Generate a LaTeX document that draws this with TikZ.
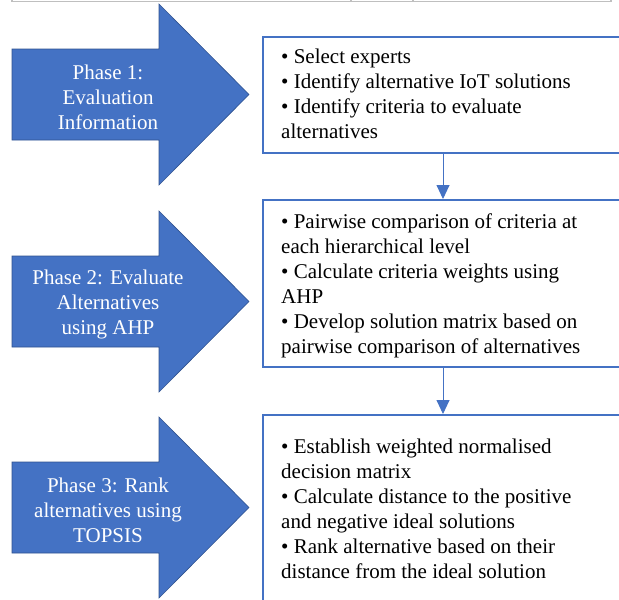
\documentclass[tikz,border=0pt]{standalone}
\usepackage{fontspec}
\setmainfont{Liberation Serif}
\usetikzlibrary{arrows.meta,positioning}
\definecolor{phaseblue}{HTML}{4472C4}
\definecolor{phaseedge}{HTML}{2F528F}
\definecolor{tablegray}{HTML}{BFBFBF}

\begin{document}
\begin{tikzpicture}[
    x=1pt, y=-1pt,
    phase/.style={fill=phaseblue, draw=phaseedge, line width=0.6pt},
    ptxt/.style={align=center, text=white, font=\fontsize{21}{25}\selectfont, inner sep=0pt},
    box/.style={draw=phaseblue, line width=1.6pt, minimum width=400pt, anchor=north west, inner sep=0pt},
    btxt/.style={align=left, font=\fontsize{21}{25}\selectfont, inner sep=0pt},
    flow/.style={-{Triangle[length=14pt,width=13pt]}, draw=phaseblue, line width=0.9pt}
]
\useasboundingbox (0,0) rectangle (619,600);
\clip (0,0) rectangle (619,600);
% edge of the table above
\draw[tablegray, line width=1.8pt] (12,0) -- (12,1.5) -- (611,1.5) -- (611,0);
\draw[tablegray, line width=1.2pt] (351,0) -- (351,1.5) (413,0) -- (413,1.5);

% phase arrows
\filldraw[phase] (12,49) -- (159,49) -- (159,4) -- (249,94.5) -- (159,185) -- (159,140) -- (12,140) -- cycle;
\filldraw[phase] (12,256) -- (159,256) -- (159,211) -- (249,301.5) -- (159,392) -- (159,347) -- (12,347) -- cycle;
\filldraw[phase] (12,462) -- (159,462) -- (159,417) -- (249,507.5) -- (159,598) -- (159,553) -- (12,553) -- cycle;
\node[ptxt] (p1) at (108,97) {Phase 1:\\Evaluation\\Information};
\node[ptxt] (p2) at (108,304) {Phase 2: Evaluate\\Alternatives\\using AHP};
\node[ptxt] (p3) at (108,510) {Phase 3: Rank\\alternatives using\\TOPSIS};

% step boxes
\node[box, minimum height=116pt] (b1) at (262,36) {};
\node[box, minimum height=167pt] (b2) at (262,199) {};
\node[box, minimum height=200pt] (b3) at (262,414) {};
\node[btxt, below right=12.7pt and 19pt of b1.north west] (t1) {%
• Select experts\\
• Identify alternative IoT solutions\\
• Identify criteria to evaluate\\
alternatives};
\node[btxt, below right=14.7pt and 19pt of b2.north west] (t2) {%
• Pairwise comparison of criteria at\\
each hierarchical level\\
• Calculate criteria weights using\\
AHP\\
• Develop solution matrix based on\\
pairwise comparison of alternatives};
\node[btxt, below right=24.7pt and 19pt of b3.north west] (t3) {%
• Establish weighted normalised\\
decision matrix\\
• Calculate distance to the positive\\
and negative ideal solutions\\
• Rank alternative based on their\\
distance from the ideal solution};

\draw[flow] ([xshift=181pt]b1.south west) -- ([xshift=181pt]b2.north west);
\draw[flow] ([xshift=181pt]b2.south west) -- ([xshift=181pt]b3.north west);
\end{tikzpicture}
\end{document}
